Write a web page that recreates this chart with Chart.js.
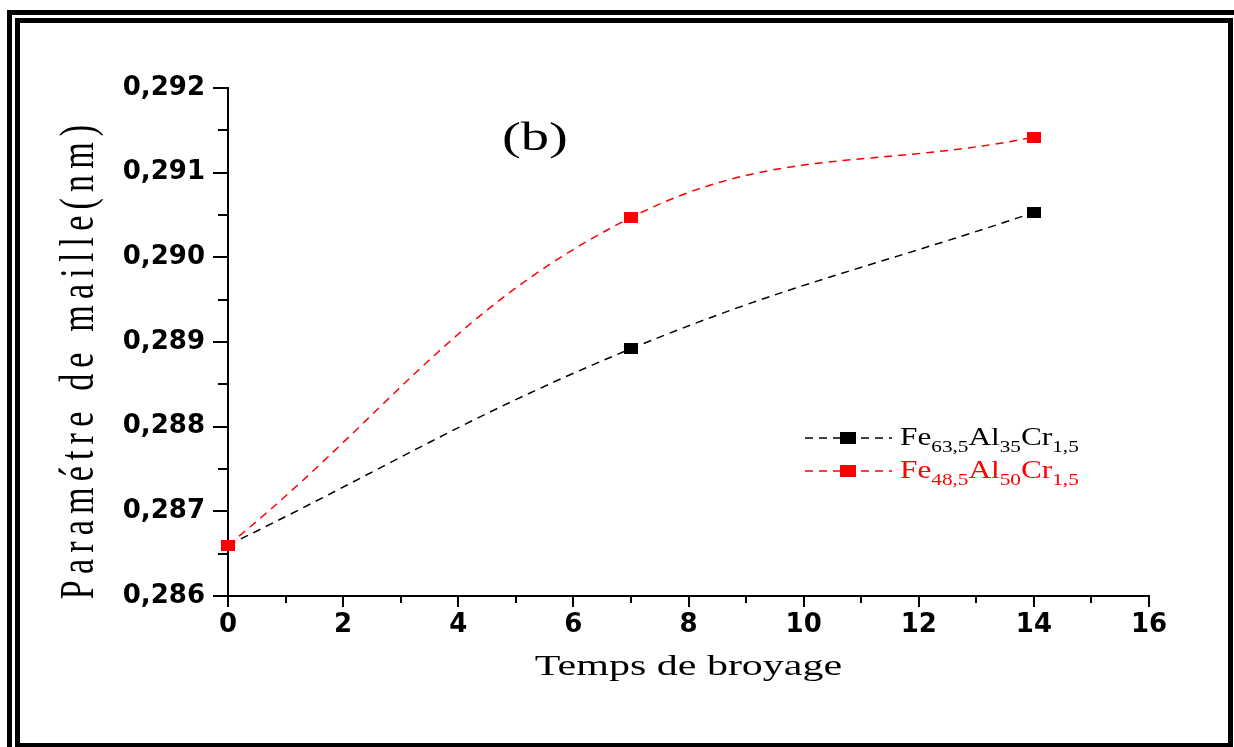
<!DOCTYPE html>
<html>
<head>
<meta charset="utf-8">
<script src="https://cdn.jsdelivr.net/npm/chart.js@4.4.0/dist/chart.umd.min.js"></script>
<style>
  html, body { margin: 0; padding: 0; background: #fff; overflow: hidden; }
  #wrap { position: absolute; left: 0; top: 0; width: 1234px; height: 747px; }
</style>
</head>
<body>
<div id="wrap"><canvas id="chart"></canvas></div>
<script>
"use strict"

// temps de broyage (h)
var temps = [0, 7, 14]
var feAl35 = [0.28660, 0.28892, 0.29053]
var feAl50 = [0.28660, 0.29047, 0.29142]

var xTickValues = [0, 2, 4, 6, 8, 10, 12, 14, 16]
var xTickLabels = ['0', '2', '4', '6', '8', '10', '12', '14', '16']
var yTickValues = [0.286, 0.287, 0.288, 0.289, 0.290, 0.291, 0.292]
var yTickLabels = ['0,286', '0,287', '0,288', '0,289', '0,290', '0,291', '0,292']

var serif = 'Liberation Serif'

function marker(color, w, h) {
    var c = document.createElement('canvas')
    c.width = w
    c.height = h
    var g = c.getContext('2d')
    g.fillStyle = color
    g.fillRect(0, 0, w, h)
    return c
}

function toPoints(ys) {
    return ys.map(function (y, i) { return { x: temps[i], y: y } })
}

// text drawn with a horizontal stretch, like the original figure
function stretchedText(ctx, parts, x, y, sx, color) {
    ctx.save()
    ctx.translate(x, y)
    ctx.scale(sx, 1)
    ctx.fillStyle = color
    ctx.textBaseline = 'alphabetic'
    ctx.textAlign = 'left'
    var cx = 0
    parts.forEach(function (p) {
        ctx.font = p.size + 'px "' + serif + '"'
        ctx.fillText(p.text, cx, p.dy || 0)
        cx += ctx.measureText(p.text).width
    })
    ctx.restore()
}

function midpoints(arr) {
    var out = []
    for (var i = 0; i < arr.length - 1; i++) out.push((arr[i] + arr[i + 1]) / 2)
    return out
}

// double frame round the figure
var frame = {
    id: 'frame',
    beforeDraw: function (chart) {
        var ctx = chart.ctx
        var W = chart.width, H = chart.height
        ctx.save()
        ctx.fillStyle = '#000'
        ctx.fillRect(7, 10, W - 7, 5)
        ctx.fillRect(7, 10, 5, H - 10)
        ctx.fillRect(15, 18, W - 16, 5)
        ctx.fillRect(15, 18, 5, H - 18)
        ctx.fillRect(W - 6, 18, 5, H - 18)
        ctx.fillRect(15, H - 4, W - 16, 4)
        ctx.restore()
    }
}

var extras = {
    id: 'extras',
    afterDraw: function (chart) {
        var ctx = chart.ctx
        var a = chart.chartArea
        var xs = chart.scales.x
        var ys = chart.scales.y

        // minor ticks
        ctx.save()
        ctx.strokeStyle = '#000'
        ctx.lineWidth = 2
        midpoints(xTickValues).forEach(function (v) {
            var px = Math.round(xs.getPixelForValue(v))
            ctx.beginPath()
            ctx.moveTo(px, a.bottom)
            ctx.lineTo(px, a.bottom + 7)
            ctx.stroke()
        })
        midpoints(yTickValues).forEach(function (v) {
            var py = Math.round(ys.getPixelForValue(v))
            ctx.beginPath()
            ctx.moveTo(a.left - 10, py)
            ctx.lineTo(a.left, py)
            ctx.stroke()
        })
        ctx.restore()

        // x title
        ctx.save()
        ctx.font = '30px "' + serif + '"'
        var tw = ctx.measureText('Temps de broyage').width * 1.4
        ctx.restore()
        stretchedText(ctx, [{ text: 'Temps de broyage', size: 30 }], (a.left + a.right) / 2 - tw / 2, 675, 1.4, '#000')

        // y title, rotated, letter spaced
        var title = 'Paramétre de maille(nm)'
        var spacing = 6.2
        ctx.save()
        ctx.font = '34px "' + serif + '"'
        var total = 0
        for (var i = 0; i < title.length; i++) total += ctx.measureText(title[i]).width + spacing
        total -= spacing
        ctx.translate(93, 362)
        ctx.rotate(-Math.PI / 2)
        ctx.scale(1, 1.45)
        ctx.fillStyle = '#000'
        ctx.textBaseline = 'alphabetic'
        var cx = -total / 2
        for (var j = 0; j < title.length; j++) {
            ctx.fillText(title[j], cx, 0)
            cx += ctx.measureText(title[j]).width + spacing
        }
        ctx.restore()

        // (b)
        stretchedText(ctx, [{ text: '(b)', size: 39 }], 502, 150, 1.45, '#000')

        // legend
        var rows = [
            { color: '#000', y: 438, parts: [
                { text: 'Fe', size: 25 }, { text: '63,5', size: 17, dy: 7 },
                { text: 'Al', size: 25 }, { text: '35', size: 17, dy: 7 },
                { text: 'Cr', size: 25 }, { text: '1,5', size: 17, dy: 7 }] },
            { color: '#ff0000', y: 471, parts: [
                { text: 'Fe', size: 25 }, { text: '48,5', size: 17, dy: 7 },
                { text: 'Al', size: 25 }, { text: '50', size: 17, dy: 7 },
                { text: 'Cr', size: 25 }, { text: '1,5', size: 17, dy: 7 }] }
        ]
        rows.forEach(function (r) {
            ctx.save()
            ctx.strokeStyle = r.color
            ctx.lineWidth = 1.5
            ctx.setLineDash([8, 6])
            ctx.beginPath()
            ctx.moveTo(805, r.y)
            ctx.lineTo(892, r.y)
            ctx.stroke()
            ctx.fillStyle = r.color
            ctx.fillRect(840, r.y - 6, 16, 12)
            ctx.restore()
            stretchedText(ctx, r.parts, 900, r.y + 7, 1.25, r.color)
        })
    }
}

var ctx = document.getElementById('chart').getContext('2d')
var chart = new Chart(ctx, {
    type: 'line',
    data: {
        datasets: [{
            label: 'Fe63,5Al35Cr1,5',
            data: toPoints(feAl35),
            borderColor: '#000',
            borderWidth: 1.5,
            borderDash: [8, 6],
            tension: 0.4,
            pointStyle: marker('#000', 14, 11),
            pointRadius: 7,
            clip: false,
            order: 1
        }, {
            label: 'Fe48,5Al50Cr1,5',
            data: toPoints(feAl50),
            borderColor: '#ff0000',
            borderWidth: 1.5,
            borderDash: [8, 6],
            tension: 0.4,
            pointStyle: marker('#ff0000', 14, 11),
            pointRadius: 7,
            clip: false,
            order: 0
        }]
    },
    options: {
        responsive: true,
        maintainAspectRatio: false,
        animation: false,
        layout: { padding: { top: 88, right: 85, left: 0, bottom: 0 } },
        plugins: {
            legend: { display: false },
            tooltip: { enabled: false }
        },
        scales: {
            x: {
                type: 'linear',
                min: 0,
                max: 16,
                border: { color: '#000', width: 2 },
                grid: { drawOnChartArea: false, drawTicks: true, tickLength: 11, color: '#000', lineWidth: 2 },
                ticks: {
                    color: '#000',
                    padding: 3,
                    maxRotation: 0,
                    font: { family: 'DejaVu Sans', weight: 'bold', size: 26 },
                    callback: function (v, i) { return xTickLabels[i] }
                },
                afterBuildTicks: function (s) { s.ticks = xTickValues.map(function (v) { return { value: v } }) },
                afterFit: function (s) { s.height = 151 }
            },
            y: {
                type: 'linear',
                min: 0.286,
                max: 0.292,
                border: { color: '#000', width: 2 },
                grid: { drawOnChartArea: false, drawTicks: true, tickLength: 15, color: '#000', lineWidth: 2 },
                ticks: {
                    color: '#000',
                    padding: 8,
                    font: { family: 'DejaVu Sans', weight: 'bold', size: 26 },
                    callback: function (v, i) { return yTickLabels[i] }
                },
                afterBuildTicks: function (s) { s.ticks = yTickValues.map(function (v) { return { value: v } }) },
                afterFit: function (s) { s.width = 228 }
            }
        }
    },
    plugins: [frame, extras]
})
</script>
</body>
</html>
